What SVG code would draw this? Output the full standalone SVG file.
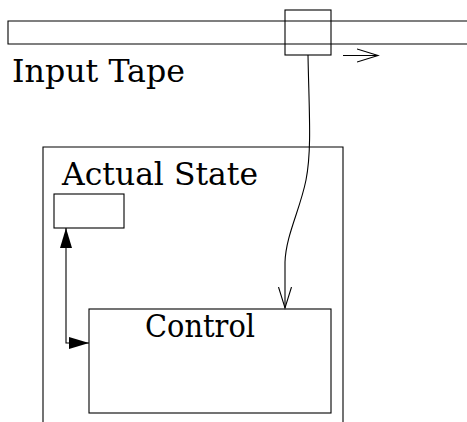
<svg xmlns="http://www.w3.org/2000/svg" width="467" height="422" viewBox="0 0 467 422">
<style>
.s{fill:none;stroke:#000;stroke-width:1.1}
.t{font-family:'DejaVu Serif','Liberation Serif',serif;font-size:31px;fill:#000}
</style>
<defs>
<marker id="open" markerUnits="userSpaceOnUse" markerWidth="24" markerHeight="24" refX="21" refY="12" orient="auto">
<path d="M0,5.5 L21,12 L0,18.5" fill="none" stroke="#000" stroke-width="1.1"/>
</marker>
<marker id="fill" markerUnits="userSpaceOnUse" markerWidth="24" markerHeight="24" refX="20" refY="12" orient="auto-start-reverse">
<path d="M0,6 L20,12 L0,18 Z" fill="#000"/>
</marker>
</defs>
<rect width="467" height="422" fill="#fff"/>
<g id="tape">
<path class="s" d="M467,21 H8 V44 H467"/>
<text class="t" x="12" y="82" textLength="173" lengthAdjust="spacingAndGlyphs">Input Tape</text>
</g>
<g id="head">
<rect class="s" x="285" y="10" width="46" height="45"/>
</g>
<g id="machine">
<path class="s" d="M43,422 V147 H343 V422"/>
<text class="t" x="62" y="185" textLength="196" lengthAdjust="spacingAndGlyphs">Actual State</text>
</g>
<g id="state">
<rect class="s" x="54" y="194" width="70" height="34"/>
</g>
<g id="control">
<rect class="s" x="89" y="309" width="242" height="104"/>
<text class="t" x="145" y="337" textLength="110" lengthAdjust="spacingAndGlyphs">Control</text>
</g>
<g id="connectors">
<path class="s" d="M343,55.5 H378" marker-end="url(#open)"/>
<path class="s" d="M308,55 C309,110 312,150 306,180 C300,210 286,235 285,262 L285,308" marker-end="url(#open)"/>
<path class="s" d="M66,228 V343 H89" marker-start="url(#fill)" marker-end="url(#fill)"/>
</g>
</svg>
